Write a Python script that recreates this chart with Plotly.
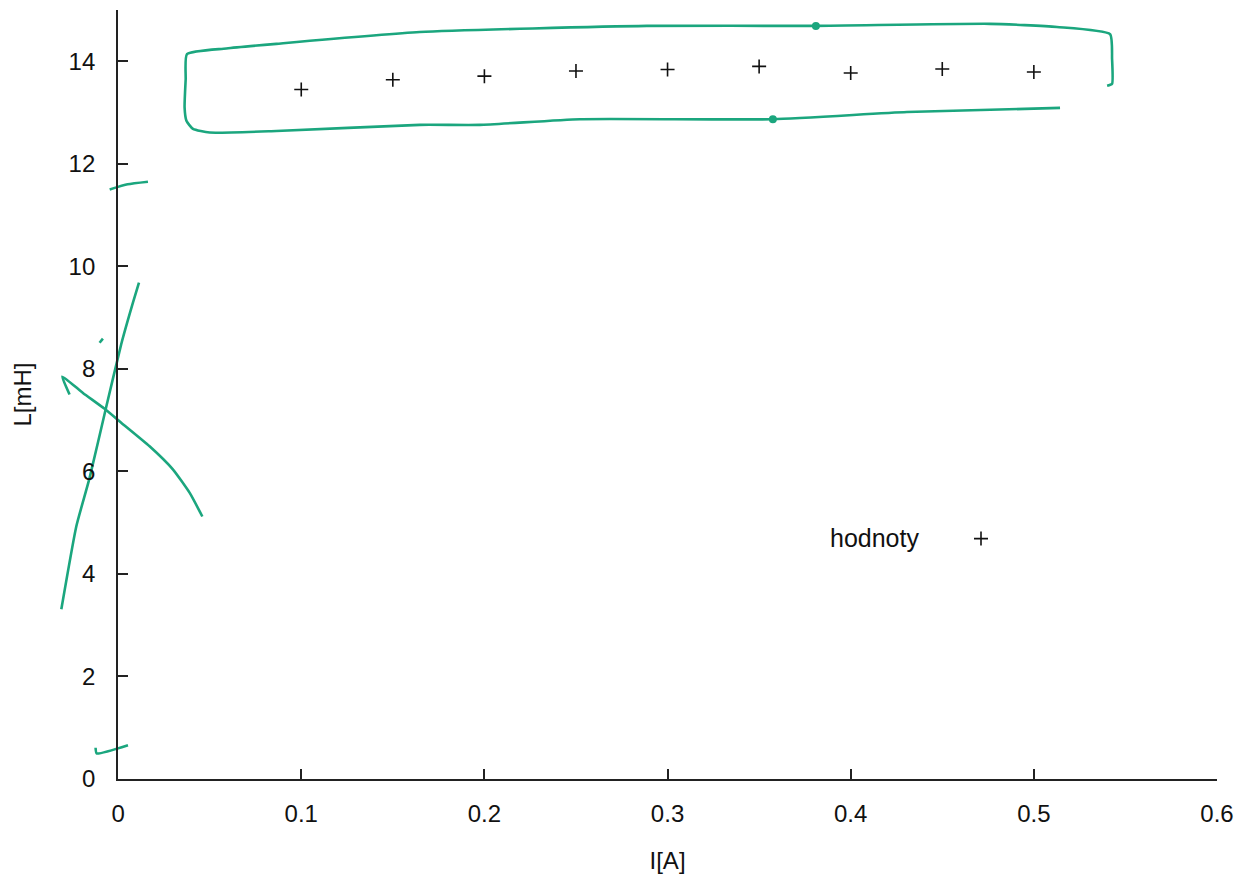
import plotly.graph_objects as go

# ---- measured data (gnuplot "hodnoty") ----
current_A = [0.10, 0.15, 0.20, 0.25, 0.30, 0.35, 0.40, 0.45, 0.50]
inductance_mH = [13.45, 13.64, 13.71, 13.81, 13.84, 13.90, 13.77, 13.85, 13.79]

x_tick_vals = [0, 0.1, 0.2, 0.3, 0.4, 0.5, 0.6]
x_tick_text = ["0", "0.1", "0.2", "0.3", "0.4", "0.5", "0.6"]
y_tick_vals = [0, 2, 4, 6, 8, 10, 12, 14]
y_tick_text = ["0", "2", "4", "6", "8", "10", "12", "14"]

X_MIN = -0.035
X_MAX = 0.6
Y_MIN = 0
Y_MAX = 15

# ---- green hand-drawn pen marks on the scan (data units) ----
loop_x = [0.5143, 0.4307, 0.3575, 0.2521, 0.1975, 0.1647, 0.0864, 0.0500, 0.0409,
          0.0373, 0.0363, 0.0369, 0.0376, 0.0591, 0.0864, 0.1647, 0.2887, 0.3810,
          0.4760, 0.5126, 0.5416, 0.5427, 0.5427, 0.5400]
loop_y = [13.09, 13.01, 12.87, 12.87, 12.76, 12.76, 12.64, 12.61, 12.68,
          12.84, 13.10, 13.65, 14.14, 14.25, 14.34, 14.57, 14.69, 14.69,
          14.73, 14.67, 14.53, 14.05, 13.56, 13.52]
loop_dots_x = [0.3575, 0.3810]
loop_dots_y = [12.87, 14.69]

rise_x = [-0.0310, -0.0228, -0.0156, -0.0064, 0.0017, 0.0081, 0.0114]
rise_y = [3.31, 4.93, 5.87, 7.27, 8.48, 9.29, 9.68]

fall_x = [-0.0265, -0.0305, -0.0192, -0.0074, 0.0017, 0.0172, 0.0299, 0.0391, 0.0460]
fall_y = [7.50, 7.85, 7.53, 7.22, 6.95, 6.49, 6.04, 5.58, 5.12]

dash_x = [-0.0101, -0.0083]
dash_y = [8.51, 8.59]

tick12_x = [-0.0046, 0.0052, 0.0163]
tick12_y = [11.50, 11.60, 11.65]

tick0_x = [-0.0123, -0.0117, 0.0054]
tick0_y = [0.61, 0.50, 0.66]

GREEN = "#1ba67e"
FONT = "Liberation Sans, Arial, sans-serif"
FS = 24

def join(*parts):
    out = []
    for p in parts:
        if out:
            out.append(None)
        out.extend(p)
    return out

pen_x = join(loop_x, rise_x, fall_x, dash_x, tick12_x, tick0_x)
pen_y = join(loop_y, rise_y, fall_y, dash_y, tick12_y, tick0_y)

fig = go.Figure()

fig.add_trace(go.Scatter(
    x=pen_x, y=pen_y, mode="lines", xaxis="x", yaxis="y",
    line=dict(color=GREEN, width=2.6, shape="spline", smoothing=0.5),
    showlegend=False, hoverinfo="skip", connectgaps=False,
))
fig.add_trace(go.Scatter(
    x=loop_dots_x, y=loop_dots_y, mode="markers", xaxis="x", yaxis="y",
    marker=dict(color=GREEN, size=8), showlegend=False, hoverinfo="skip",
))
fig.add_trace(go.Scatter(
    x=current_A, y=inductance_mH, mode="markers", name="hodnoty",
    xaxis="x2", yaxis="y",
    marker=dict(symbol="cross-thin", size=10, color="#111",
                line=dict(color="#111", width=1.6)),
    showlegend=True,
))

# page body has an 8px margin -> shift the figure up/left accordingly
ml, mr, mt, mb = 46, 33, 2, 99
W, H = 1242, 870
pw = W - ml - mr
ph = H - mt - mb
OFF = 8

zero_frac = (0 - X_MIN) / (X_MAX - X_MIN)

axis_common = dict(
    showgrid=False, zeroline=False, showline=True, linecolor="#222", linewidth=2,
    ticks="inside", ticklen=10, tickwidth=1.5, tickcolor="#222",
    tickfont=dict(family=FONT, size=FS, color="#111"),
)

fig.update_layout(
    width=W, height=H,
    margin=dict(l=ml, r=mr, t=mt, b=mb, pad=0),
    paper_bgcolor="white", plot_bgcolor="rgba(0,0,0,0)",
    font=dict(family=FONT, size=FS, color="#111"),
    xaxis=dict(domain=[0, 1], range=[X_MIN, X_MAX], visible=False,
               anchor="y", fixedrange=True),
    xaxis2=dict(domain=[zero_frac, 1], range=[0, X_MAX], anchor="y",
                tickvals=x_tick_vals, ticktext=x_tick_text,
                ticklabelstandoff=12,
                title=dict(text="I[A]", standoff=26,
                           font=dict(family=FONT, size=FS, color="#111")),
                **axis_common),
    yaxis=dict(domain=[0, 1], range=[Y_MIN, Y_MAX], anchor="x2",
               tickvals=y_tick_vals, ticktext=y_tick_text,
               ticklabelstandoff=16,
               title=dict(text="L[mH]", standoff=30,
                          font=dict(family=FONT, size=FS, color="#111")),
               **axis_common),
    legend=dict(x=(981 - OFF - 20 - ml) / pw, y=(H + OFF - mb - 539) / ph,
                xanchor="left", yanchor="middle",
                bgcolor="rgba(0,0,0,0)", borderwidth=0,
                font=dict(family=FONT, size=FS, color="rgba(0,0,0,0)")),
    annotations=[dict(text="hodnoty", xref="paper", yref="paper",
                      x=(828 - OFF - ml) / pw, y=(H + OFF - mb - 538) / ph,
                      xanchor="left", yanchor="middle", showarrow=False,
                      font=dict(family=FONT, size=25, color="#111"))],
)

fig.write_html("out.html")
